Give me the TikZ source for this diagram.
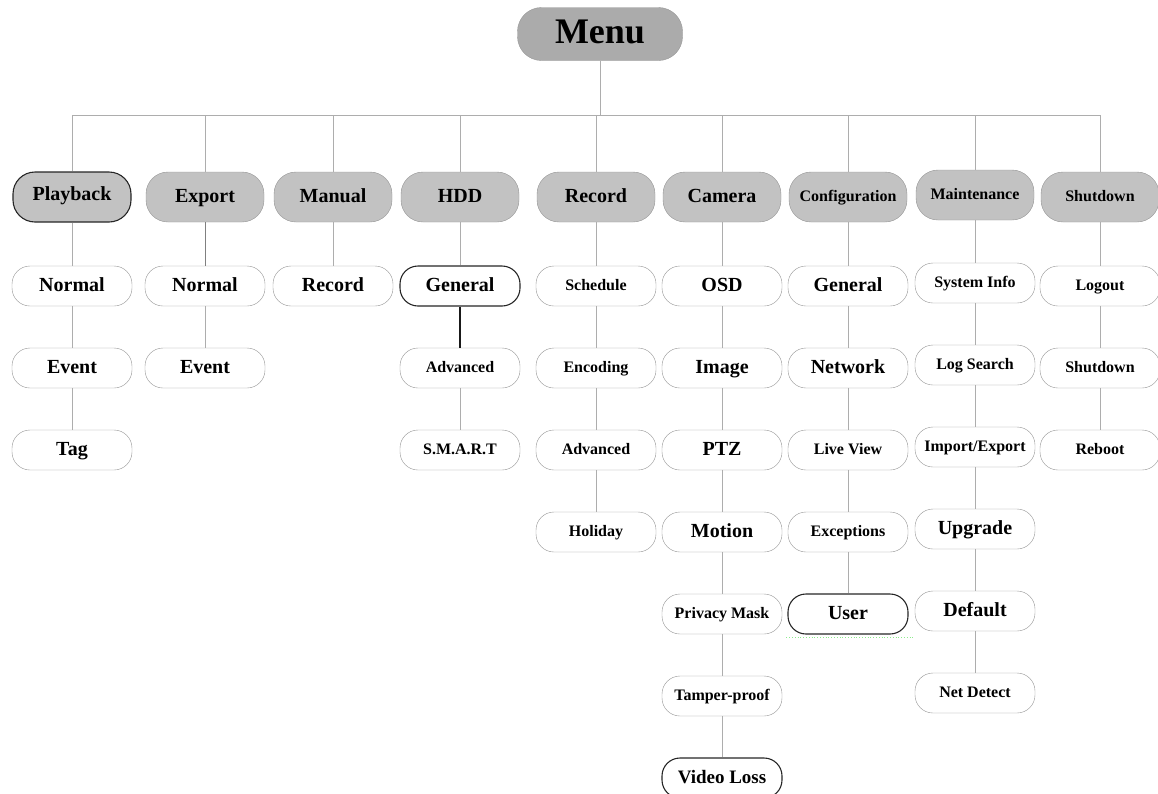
\documentclass[tikz,border=0pt]{standalone}
\usepackage{fontspec}
\setmainfont{Liberation Serif}
\usepackage{tikz}
\usetikzlibrary{shapes, positioning}

\definecolor{menugray}{gray}{0.67}
\definecolor{topgray}{gray}{0.76}
\definecolor{edgegray}{gray}{0.58}
\definecolor{linkgray}{gray}{0.68}
\definecolor{dotgreen}{rgb}{0.55,0.92,0.55}

\begin{document}
\begin{tikzpicture}[x=1pt, y=-1pt, node distance=82pt]
\tikzstyle{menubox} = [draw=edgegray, fill=menugray, rounded corners=24pt, minimum width=165pt, minimum height=53pt, text height=25pt, text depth=7pt, font=\fontsize{36}{40}\selectfont\bfseries]
\tikzstyle{topbox} = [draw=edgegray, fill=topgray, rounded corners=22pt, minimum width=118pt, minimum height=50pt, inner sep=1pt, text height=14pt, text depth=4pt, font=\fontsize{20}{24}\selectfont\bfseries]
\tikzstyle{topsmall} = [topbox, text height=11.5pt, text depth=3.5pt, font=\fontsize{16}{19}\selectfont\bfseries]
\tikzstyle{item} = [draw=edgegray, fill=white, rounded corners=18pt, minimum width=120pt, minimum height=40pt, inner sep=1pt, text height=14pt, text depth=4pt, font=\fontsize{20}{24}\selectfont\bfseries]
\tikzstyle{itemsmall} = [item, text height=11.5pt, text depth=3.5pt, font=\fontsize{16}{19}\selectfont\bfseries]
\tikzstyle{marked} = [draw=black!85, line width=1.1pt]
\tikzstyle{link} = [draw=linkgray, line width=0.9pt]
\tikzstyle{boldlink} = [draw=black!90, line width=1.6pt]

\useasboundingbox (0,0) rectangle (1158,793);

    % Menu and the first level
    \node [menubox] (menu) at (600,34) {Menu};
    \coordinate (bus) at (600,115);
    \node [topbox, marked, text depth=7pt] (playback) at (72,197) {Playback};
    \node [topbox] (export) at (205,197) {Export};
    \node [topbox] (manual) at (333,197) {Manual};
    \node [topbox] (hdd) at (460,197) {HDD};
    \node [topbox] (record) at (596,197) {Record};
    \node [topbox] (camera) at (722,197) {Camera};
    \node [topsmall] (config) at (848,197) {Configuration};
    \node [topsmall] (maint) at (975,195) {Maintenance};
    \node [topsmall] (shutdown) at (1100,197) {Shutdown};

    % Playback
    \node [item, below of = playback, node distance=89pt] (normalP) {Normal};
    \node [item, below of = normalP] (eventP) {Event};
    \node [item, below of = eventP] (tagP) {Tag};

    % Export
    \node [item, below of = export, node distance=89pt] (normalE) {Normal};
    \node [item, below of = normalE] (eventE) {Event};

    % Manual
    \node [item, below of = manual, node distance=89pt] (recordM) {Record};

    % HDD
    \node [item, marked, below of = hdd, node distance=89pt] (generalH) {General};
    \node [itemsmall, below of = generalH] (advancedH) {Advanced};
    \node [itemsmall, below of = advancedH] (smartH) {S.M.A.R.T};

    % Record
    \node [itemsmall, below of = record, node distance=89pt] (scheduleR) {Schedule};
    \node [itemsmall, below of = scheduleR] (encodingR) {Encoding};
    \node [itemsmall, below of = encodingR] (advancedR) {Advanced};
    \node [itemsmall, below of = advancedR] (holidayR) {Holiday};

    % Camera
    \node [item, below of = camera, node distance=89pt] (osdC) {OSD};
    \node [item, below of = osdC] (imageC) {Image};
    \node [item, below of = imageC] (ptzC) {PTZ};
    \node [item, below of = ptzC] (motionC) {Motion};
    \node [itemsmall, below of = motionC] (privacyC) {Privacy Mask};
    \node [itemsmall, below of = privacyC] (tamperC) {Tamper-proof};
    \node [item, marked, below of = tamperC, font=\fontsize{19}{22}\selectfont\bfseries] (lossC) {Video Loss};

    % Configuration
    \node [item, below of = config, node distance=89pt] (generalG) {General};
    \node [item, below of = generalG] (networkG) {Network};
    \node [itemsmall, below of = networkG] (liveG) {Live View};
    \node [itemsmall, below of = liveG] (exceptG) {Exceptions};
    \node [item, marked, below of = exceptG] (userG) {User};

    % Maintenance
    \node [itemsmall, below of = maint, node distance=88pt] (infoT) {System Info};
    \node [itemsmall, below of = infoT] (logT) {Log Search};
    \node [itemsmall, below of = logT] (importT) {Import/Export};
    \node [item, below of = importT] (upgradeT) {Upgrade};
    \node [item, below of = upgradeT] (defaultT) {Default};
    \node [itemsmall, below of = defaultT] (netT) {Net Detect};

    % Shutdown
    \node [itemsmall, below of = shutdown, node distance=89pt] (logoutS) {Logout};
    \node [itemsmall, below of = logoutS] (shutS) {Shutdown};
    \node [itemsmall, below of = shutS] (rebootS) {Reboot};

    % Once the nodes are placed, the tree lines
    \draw [link] (menu) -- (bus);
    \draw [link] (bus -| playback) -- (bus -| shutdown);
    \draw [link] (bus -| playback) -- (playback);
    \draw [link] (bus -| export) -- (export);
    \draw [link] (bus -| manual) -- (manual);
    \draw [link] (bus -| hdd) -- (hdd);
    \draw [link] (bus -| record) -- (record);
    \draw [link] (bus -| camera) -- (camera);
    \draw [link] (bus -| config) -- (config);
    \draw [link] (bus -| maint) -- (maint);
    \draw [link] (bus -| shutdown) -- (shutdown);

    \draw [link] (playback) -- (normalP) -- (eventP) -- (tagP);
    \draw [link, draw=gray] (export) -- (normalE);
    \draw [link] (normalE) -- (eventE);
    \draw [link] (manual) -- (recordM);
    \draw [link] (hdd) -- (generalH);
    \draw [boldlink] (generalH) -- (advancedH);
    \draw [link] (advancedH) -- (smartH);
    \draw [link] (record) -- (scheduleR) -- (encodingR) -- (advancedR) -- (holidayR);
    \draw [link] (camera) -- (osdC) -- (imageC) -- (ptzC) -- (motionC) -- (privacyC) -- (tamperC) -- (lossC);
    \draw [link] (config) -- (generalG) -- (networkG) -- (liveG) -- (exceptG) -- (userG);
    \draw [link] (maint) -- (infoT) -- (logT) -- (importT) -- (upgradeT) -- (defaultT) -- (netT);
    \draw [link] (shutdown) -- (logoutS) -- (shutS) -- (rebootS);

    \draw [dotgreen, dotted, line width=0.8pt] (userG.south west) ++(-1,3) -- ++(128,0);

\end{tikzpicture}
\end{document}
